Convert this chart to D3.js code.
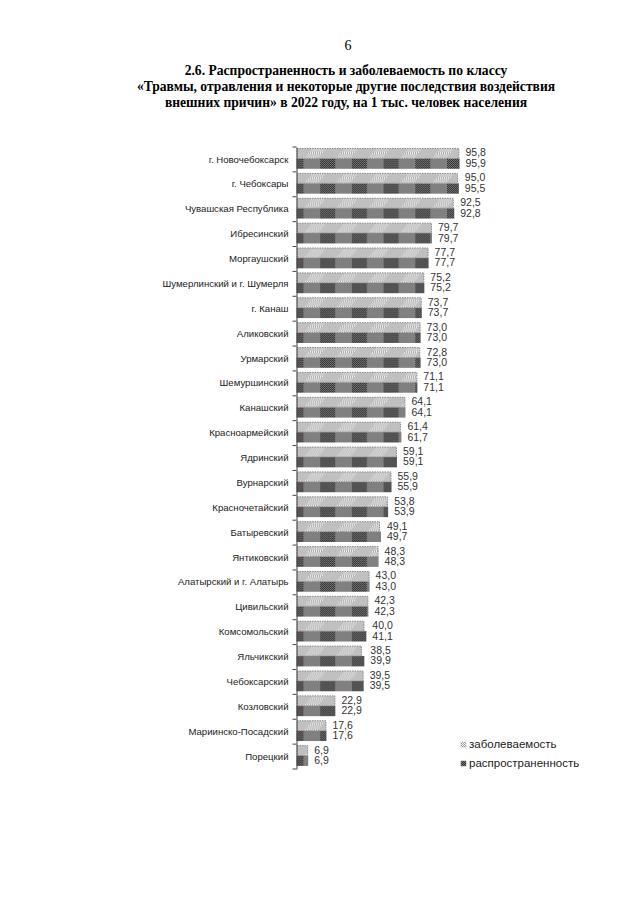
<!DOCTYPE html>
<html><head><meta charset="utf-8">
<script src="https://cdn.jsdelivr.net/npm/d3@7"></script>
<style>
html,body{margin:0;padding:0;background:#fff;}
svg{display:block;}
</style></head>
<body>
<script>
const categories = ["г. Новочебоксарск","г. Чебоксары","Чувашская Республика","Ибресинский","Моргаушский","Шумерлинский и г. Шумерля","г. Канаш","Аликовский","Урмарский","Шемуршинский","Канашский","Красноармейский","Ядринский","Вурнарский","Красночетайский","Батыревский","Янтиковский","Алатырский и г. Алатырь","Цивильский","Комсомольский","Яльчикский","Чебоксарский","Козловский","Мариинско-Посадский","Порецкий"];
const zabolevaemost = [95.8,95.0,92.5,79.7,77.7,75.2,73.7,73.0,72.8,71.1,64.1,61.4,59.1,55.9,53.8,49.1,48.3,43.0,42.3,40.0,38.5,39.5,22.9,17.6,6.9];
const rasprostranennost = [95.9,95.5,92.8,79.7,77.7,75.2,73.7,73.0,73.0,71.1,64.1,61.7,59.1,55.9,53.9,49.7,48.3,43.0,42.3,41.1,39.9,39.5,22.9,17.6,6.9];
const seriesNames = ["заболеваемость","распространенность"];
const titleLines = ["2.6. Распространенность и заболеваемость по классу","«Травмы, отравления и некоторые другие последствия воздействия","внешних причин» в 2022 году, на 1 тыс. человек населения"];
const pageNumber = "6";

const W = 640, H = 905;
const svg = d3.select("body").append("svg").attr("width", W).attr("height", H);
const defs = svg.append("defs");

function dither(id, a, b){
  const p = defs.append("pattern").attr("id", id).attr("patternUnits","userSpaceOnUse")
    .attr("width",2).attr("height",2);
  p.append("rect").attr("width",2).attr("height",2).attr("fill",a);
  p.append("rect").attr("x",0).attr("y",0).attr("width",1).attr("height",1).attr("fill",b);
  p.append("rect").attr("x",1).attr("y",1).attr("width",1).attr("height",1).attr("fill",b);
}
dither("dLight", "#ffffff", "#9a9a9a");
dither("dDark", "#808080", "#262626");

const x0 = 296.5;
const hatch = defs.append("pattern").attr("id","hatch").attr("patternUnits","userSpaceOnUse")
  .attr("width",32).attr("height",40).attr("x", x0)
  .attr("patternTransform","skewX(-40)");
hatch.append("rect").attr("width",32).attr("height",40).attr("fill","#c0c0c0");
hatch.append("rect").attr("x",17).attr("width",14).attr("height",40).attr("fill","url(#dLight)");

const blocks = defs.append("pattern").attr("id","blocks").attr("patternUnits","userSpaceOnUse")
  .attr("width",31.7).attr("height",40).attr("x", x0 - 8);
blocks.append("rect").attr("width",31.7).attr("height",40).attr("fill","#808080");
blocks.append("rect").attr("x",0).attr("width",15).attr("height",40).attr("fill","url(#dDark)");

const serif = "'Liberation Serif','Times New Roman',serif";
svg.append("text").attr("x",348).attr("y",50).attr("text-anchor","middle")
  .attr("font-family",serif).attr("font-size",14).attr("fill","#000")
  .text(pageNumber);
svg.append("g").selectAll("text").data(titleLines).join("text")
  .attr("x",346).attr("y",(d,i)=>75 + i*16).attr("text-anchor","middle")
  .attr("font-family",serif).attr("font-weight","bold")
  .attr("font-size",13.6).attr("fill","#000").text(d=>d);

const x = d3.scaleLinear().domain([0,100]).range([x0, x0+170]);
const y = d3.scaleBand().domain(categories).range([147, 769]).paddingInner(0).paddingOuter(0);
const bh = y.bandwidth();
const barH = 10.4, off = 1;

const g = svg.append("g");
const rows = g.selectAll("g.row").data(categories).join("g").attr("class","row")
  .attr("transform", d=>`translate(0,${y(d)})`);

rows.append("rect").attr("x", x(0)).attr("y", off + barH)
  .attr("width",(d,i)=>x(rasprostranennost[i])-x(0)).attr("height",barH)
  .attr("fill","url(#blocks)");
rows.append("rect").attr("x", x(0)+0.5).attr("y", off+0.5)
  .attr("width",(d,i)=>x(zabolevaemost[i])-x(0)-1).attr("height",barH-0.5)
  .attr("fill","url(#hatch)").attr("stroke","#8a8a8a").attr("stroke-width",1)
  .attr("stroke-dasharray","1.5,1");

const lblFont = "'Liberation Sans',Arial,sans-serif";
rows.append("text").attr("x",(d,i)=>x(Math.max(zabolevaemost[i],rasprostranennost[i]))+6)
  .attr("y", off + barH/2 + 0.5).attr("dominant-baseline","middle")
  .attr("font-family",lblFont).attr("font-size",10.5).attr("fill","#333")
  .text((d,i)=>zabolevaemost[i].toFixed(1).replace(".",","));
rows.append("text").attr("x",(d,i)=>x(Math.max(zabolevaemost[i],rasprostranennost[i]))+6)
  .attr("y", off + barH*1.5 + 0.5).attr("dominant-baseline","middle")
  .attr("font-family",lblFont).attr("font-size",10.5).attr("fill","#333")
  .text((d,i)=>rasprostranennost[i].toFixed(1).replace(".",","));

const axis = d3.axisLeft(y).tickSize(0).tickPadding(8);
const ag = svg.append("g").attr("transform",`translate(${x0},0)`).call(axis);
ag.select(".domain").attr("stroke","#444").attr("stroke-width",1);
ag.selectAll(".tick text").attr("font-family",lblFont).attr("font-size",9.6).attr("fill","#222");
const bounds = categories.map(c=>y(c)).concat([y(categories[categories.length-1])+bh]);
svg.append("g").selectAll("line").data(bounds).join("line")
  .attr("x1",x0-4).attr("x2",x0).attr("y1",d=>d).attr("y2",d=>d)
  .attr("stroke","#444").attr("stroke-width",1);

const lg = svg.append("g").attr("transform","translate(461,745)");
const swFill = ["url(#dLight)","url(#dDark)"];
seriesNames.forEach((s,i)=>{
  lg.append("rect").attr("x",0).attr("y",i*19-3).attr("width",5).attr("height",5)
    .attr("fill",swFill[i]).attr("stroke",i===0?"#aaa":"#666").attr("stroke-width",0.5);
  lg.append("text").attr("x",8).attr("y",i*19).attr("dominant-baseline","middle")
    .attr("font-family",lblFont).attr("font-size",11.5).attr("fill","#222").text(s);
});
</script>
</body></html>
